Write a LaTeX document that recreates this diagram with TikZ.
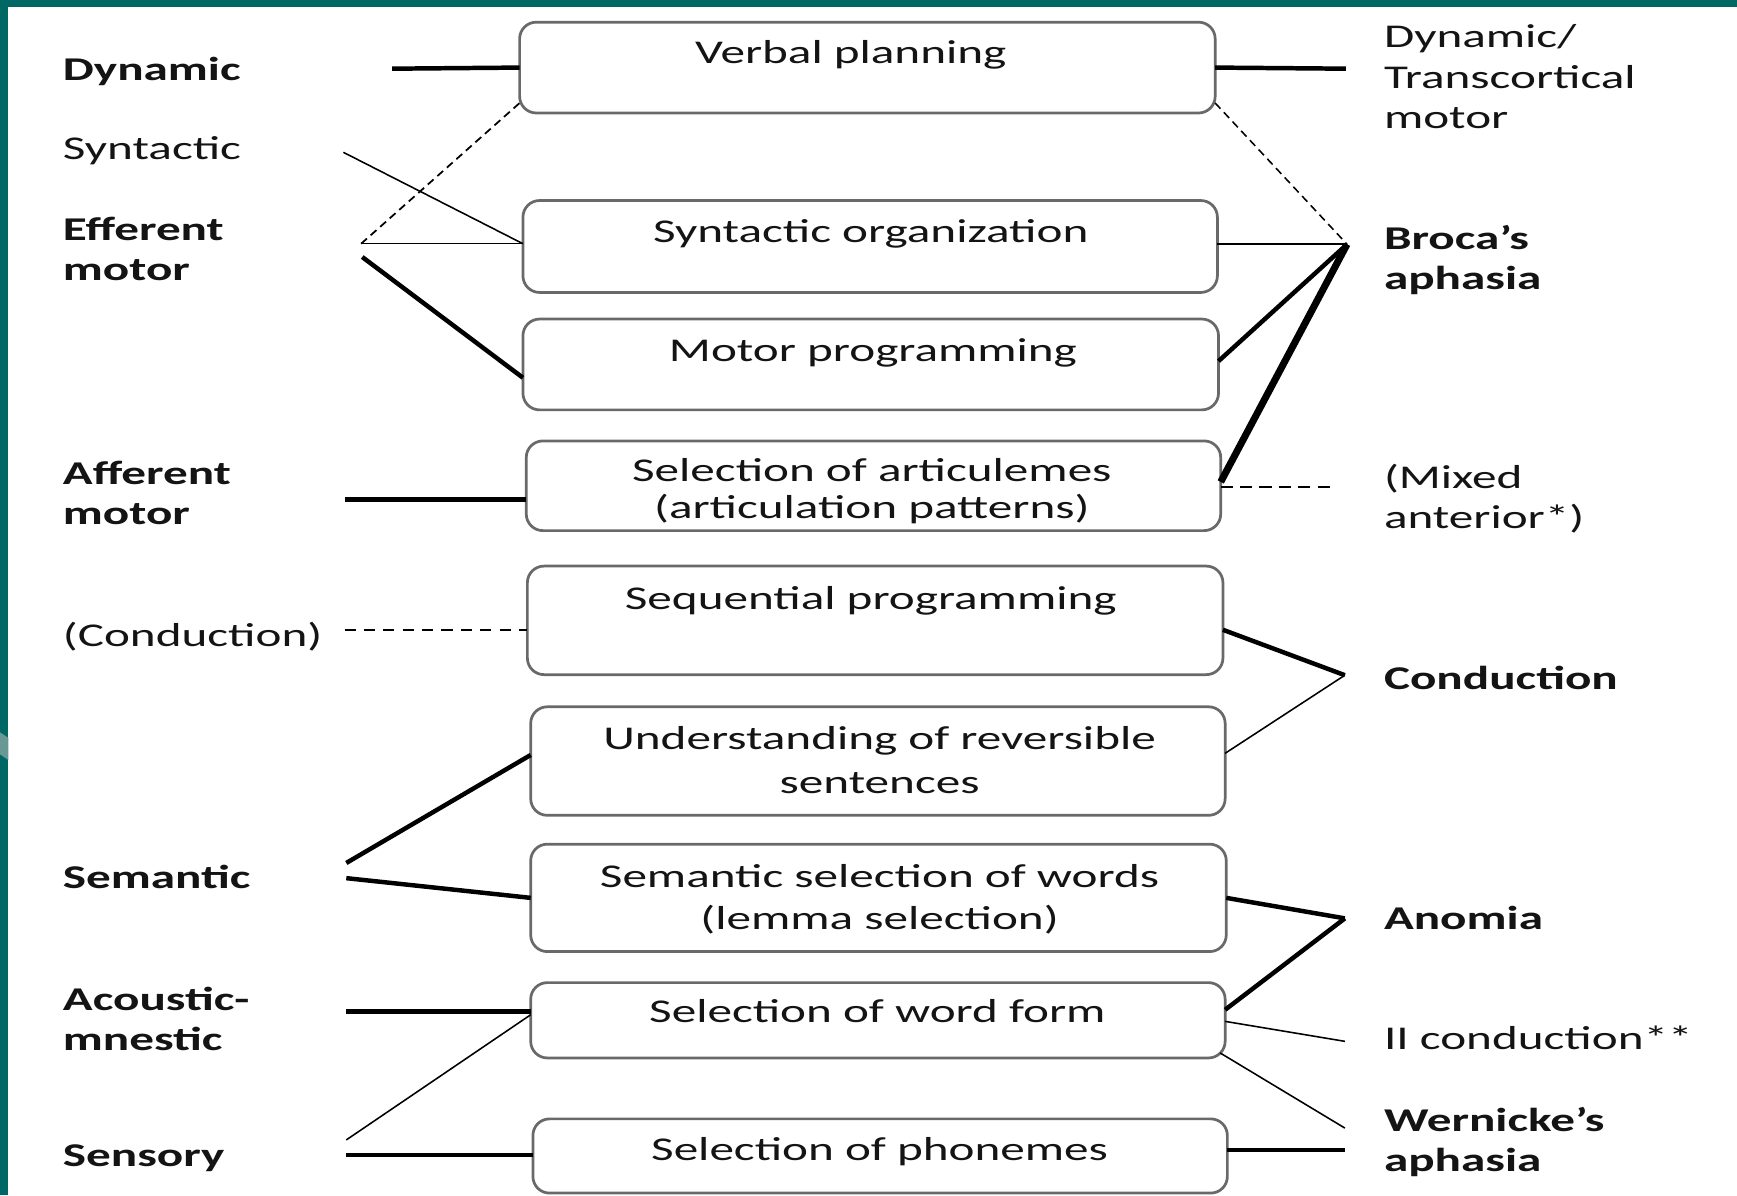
\documentclass[tikz,border=0pt]{standalone}
\usepackage{fontspec}
\setmainfont{Carlito}[FakeStretch=1.48]
\definecolor{teal1}{RGB}{0,104,100}
\definecolor{teal2}{RGB}{105,152,148}
\definecolor{boxgray}{RGB}{105,105,105}
\definecolor{ink}{RGB}{20,20,20}
\begin{document}
\begin{tikzpicture}[x=0.02cm,y=-0.02cm,
  procbox/.style={draw=boxgray, line width=1.4pt, rounded corners=0.3cm, inner sep=0pt, outer sep=0pt},
  boxtext/.style={font=\fontsize{17.07}{21.6}\selectfont, text=ink, inner sep=0pt, anchor=base},
  lab/.style={font=\fontsize{17.07}{20.5}\selectfont, text=ink, inner sep=0pt, anchor=base west},
  blab/.style={lab, font=\fontsize{17.07}{20.5}\selectfont\bfseries},
  thinline/.style={line width=0.8pt, black},
  thickline/.style={line width=2.3pt, black},
  heavyline/.style={line width=3.6pt, black},
  shortdash/.style={line width=0.9pt, black, dash pattern=on 0.14cm off 0.09cm},
  longdash/.style={line width=0.8pt, black, dash pattern=on 0.2cm off 0.15cm},
  middash/.style={line width=0.9pt, black, dash pattern=on 0.22cm off 0.13cm}]
\useasboundingbox (0,0) rectangle (1568,1079);
\fill[white] (0,0) rectangle (1568,1079);
% frame
\fill[teal1] (0,0) rectangle (1568,6);
\fill[teal1] (0,0) rectangle (7.5,1079);
\fill[teal2] (0,661) -- (7.5,666) -- (7.5,686) -- (0,681) -- cycle;

% process boxes
\node[procbox, minimum width=12.56cm, minimum height=1.64cm] (b1) at (783,61) {};
\node[procbox, minimum width=12.54cm, minimum height=1.66cm] (b2) at (785.5,222.5) {};
\node[procbox, minimum width=12.56cm, minimum height=1.64cm] (b3) at (786,329) {};
\node[procbox, minimum width=12.54cm, minimum height=1.62cm] (b4) at (788.5,438.5) {};
\node[procbox, minimum width=12.56cm, minimum height=1.96cm] (b5) at (790,560) {};
\node[procbox, minimum width=12.54cm, minimum height=1.96cm] (b6) at (792.5,687) {};
\node[procbox, minimum width=12.56cm, minimum height=1.94cm] (b7) at (793,810.5) {};
\node[procbox, minimum width=12.54cm, minimum height=1.36cm] (b8) at (792.5,921) {};
\node[procbox, minimum width=12.54cm, minimum height=1.34cm] (b9) at (794.5,1043.5) {};

% box texts
\node[boxtext] (t1) at (768,57) {Verbal planning};
\node[boxtext] (t2) at (786,219) {Syntactic organization};
\node[boxtext] (t3) at (788,326) {Motor programming};
\node[boxtext, font=\fontsize{17.07}{18.6}\selectfont] (t4) at (787,435)
  {\begin{tabular}[t]{@{}c@{}}Selection of articulemes\\(articulation patterns)\end{tabular}};
\node[boxtext] (t5) at (786,550.5) {Sequential programming};
\node[boxtext, font=\fontsize{17.07}{22.6}\selectfont] (t6) at (794,677)
  {\begin{tabular}[t]{@{}c@{}}Understanding of reversible\\sentences\end{tabular}};
\node[boxtext] (t7) at (794,801)
  {\begin{tabular}[t]{@{}c@{}}Semantic selection of words\\(lemma selection)\end{tabular}};
\node[boxtext] (t8) at (792,922.6) {Selection of word form};
\node[boxtext] (t9) at (794,1048) {Selection of phonemes};

% left labels
\node[blab] (l1) at (56.5,72.7) {Dynamic};
\node[lab]  (l2) at (56.5,144.4) {Syntactic};
\node[blab] (l3) at (56.5,217.3) {\begin{tabular}[t]{@{}l@{}}Efferent\\motor\end{tabular}};
\node[blab] (l4) at (56.5,437.7) {\begin{tabular}[t]{@{}l@{}}Afferent\\motor\end{tabular}};
\node[lab]  (l5) at (56.5,583.6) {(Conduction)};
\node[blab] (l6) at (56.5,801.7) {Semantic};
\node[blab] (l7) at (56.5,912) {\begin{tabular}[t]{@{}l@{}}Acoustic-\\mnestic\end{tabular}};
\node[blab] (l8) at (56.5,1053) {Sensory};

% right labels
\node[lab, font=\fontsize{17.07}{21}\selectfont] (r1) at (1249,42.6)
  {\begin{tabular}[t]{@{}l@{}}Dynamic/\\Transcortical\\motor\end{tabular}};
\node[blab] (r2) at (1249,225) {\begin{tabular}[t]{@{}l@{}}Broca’s\\aphasia\end{tabular}};
\node[lab]  (r3) at (1249,440.7) {\begin{tabular}[t]{@{}l@{}}(Mixed\\anterior*)\end{tabular}};
\node[blab] (r4) at (1249,622) {Conduction};
\node[blab] (r5) at (1249,838.7) {Anomia};
\node[lab]  (r6) at (1249,947.7) {II conduction**};
\node[blab] (r7) at (1249,1021.4) {\begin{tabular}[t]{@{}l@{}}Wernicke’s\\aphasia\end{tabular}};

% free ends of connectors
\coordinate (dyn) at (354,62);
\coordinate (syn) at (310,137.5);
\coordinate (eff) at (326,220);
\coordinate (effb) at (327,232);
\coordinate (aff) at (311,451);
\coordinate (cond) at (311,568.6);
\coordinate (semA) at (312.6,779);
\coordinate (semB) at (312.6,792.7);
\coordinate (acm) at (312.6,913);
\coordinate (sensA) at (312.6,1029);
\coordinate (sensB) at (312.6,1042.4);
\coordinate (dyr) at (1215,62);
\coordinate (bro) at (1216,220.5);
\coordinate (mix) at (1205,439.8);
\coordinate (con) at (1214,609.5);
\coordinate (ano) at (1214,829);
\coordinate (iic) at (1214,940);
\coordinate (wer) at (1214,1018.3);
\coordinate (werb) at (1214,1038);

% left connectors
\draw[thickline] (dyn) -- (b1.west);
\draw[thinline] (syn) -- (eff -| b2.west);
\draw[thinline] (eff) -- (eff -| b2.west);
\draw[shortdash] (eff) -- ([yshift=0.18cm]b1.south west);
\draw[thickline] (effb) -- ([yshift=-0.24cm]b3.west);
\draw[thickline] (aff) -- (aff -| b4.west);
\draw[longdash] (cond) -- (cond -| b5.west);
\draw[thickline] (semA) -- ([yshift=0.11cm]b6.west);
\draw[thickline] (semB) -- (b7.west);
\draw[thickline] (acm) -- (acm -| b8.west);
\draw[thinline] (sensA) -- ([yshift=0.1cm]b8.west);
\draw[thickline] (sensB) -- (sensB -| b9.west);

% right connectors
\draw[thickline] (b1.east) -- (dyr);
\draw[shortdash, line width=0.8pt] ([yshift=0.18cm]b1.south east) -- (bro);
\draw[thinline] (bro -| b2.east) -- (bro);
\draw[thickline] ([yshift=0.06cm]b3.east) -- (bro);
\draw[heavyline] ([yshift=0.07cm]b4.east) -- (bro);
\draw[middash] (mix -| b4.east) -- (mix);
\draw[thickline] ([yshift=-0.17cm]b5.east) -- (con);
\draw[thinline] ([yshift=0.14cm]b6.east) -- (con);
\draw[thickline] (b7.east) -- (ano);
\draw[thickline] ([yshift=0.19cm]b8.east) -- (ano);
\draw[thinline] ([yshift=-0.02cm]b8.east) -- (iic);
\draw[thinline] ([shift={(-0.09cm,0.09cm)}]b8.south east) -- (wer);
\draw[thickline] (werb -| b9.east) -- (werb);
\end{tikzpicture}
\end{document}
